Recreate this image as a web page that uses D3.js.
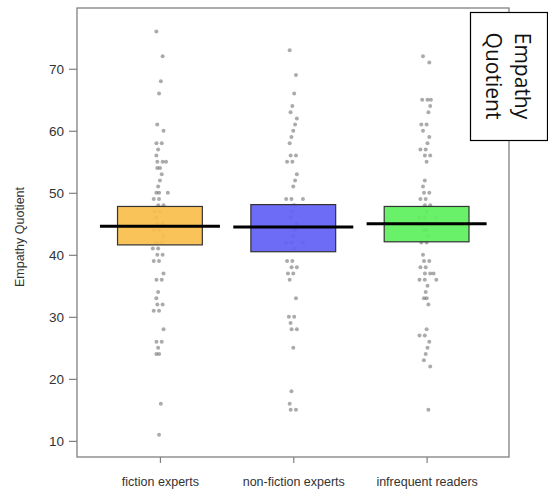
<!DOCTYPE html>
<html><head><meta charset="utf-8">
<script src="https://cdn.jsdelivr.net/npm/d3@7"></script>
<style>body{margin:0;background:#fff}svg{display:block}</style>
</head><body>
<svg id="c" width="548" height="494"></svg>
<script>
const categories = ["fiction experts", "non-fiction experts", "infrequent readers"];
const fictionEQ = [76,72,68,66,61,60,58,58,57,56,55,55,55,54,54,53,52,51,50,50,50,49,49,48,48,47,47,46,45,45,44,44,43,42,42,41,41,40,40,39,39,37,36,36,34,33,32,32,31,31,28,26,26,25,24,24,16,11];
const nonFictionEQ = [73,69,66,64,63,62,61,60,59,58,56,56,55,55,53,52,51,49,49,49,48,47,46,45,44,43,42,42,42,41,39,39,38,38,37,37,36,33,30,30,29,28,28,25,18,16,15,15];
const infrequentEQ = [72,71,65,65,65,64,63,61,61,60,59,58,57,57,56,56,55,52,51,50,50,49,49,48,48,47,46,46,46,45,45,44,44,43,42,42,40,39,39,38,38,37,37,37,36,36,36,35,34,33,33,32,28,27,27,26,25,24,23,22,15];
const means = [44.6, 44.5, 45.0];
const boxLow = [41.6, 40.5, 42.1];
const boxHigh = [47.8, 48.1, 47.8];
const boxColors = ["#F9BE4E", "#6161F5", "#5EF05E"];
const yTicks = [10,20,30,40,50,60,70];
const yTitle = "Empathy Quotient";
const legendLines = ["Empathy", "Quotient"];

const series = [fictionEQ, nonFictionEQ, infrequentEQ];
const svg = d3.select("#c");
const L = 77, R = 509, T = 8, B = 457;
const x = d3.scaleLinear().domain([0.378, 3.618]).range([L, R]);
const y = d3.scaleLinear().domain([7.4, 79.8]).range([B, T]);
const font = "'Liberation Sans', Arial, sans-serif";

// points
series.forEach((vals, ci) => {
  const seen = {};
  vals.forEach((v, i) => {
    const k = seen[v] = (seen[v] || 0) + 1;
    const off = ((i * 7) % 9 - 4) * 0.9 + (k - 1) * (k % 2 ? 3.5 : -3.5);
    svg.append("circle")
      .attr("cx", x(ci + 1) + off)
      .attr("cy", y(v))
      .attr("r", 2)
      .attr("fill", "#444")
      .attr("fill-opacity", 0.45);
  });
});

// boxes
svg.selectAll("rect.box").data(categories).join("rect")
  .attr("class", "box")
  .attr("x", (d, i) => x(i + 1 - 0.318))
  .attr("width", x(1.318) - x(0.682))
  .attr("y", (d, i) => y(boxHigh[i]))
  .attr("height", (d, i) => y(boxLow[i]) - y(boxHigh[i]))
  .attr("fill", (d, i) => boxColors[i])
  .attr("fill-opacity", 0.93)
  .attr("stroke", "#333")
  .attr("stroke-width", 1.2);

// mean lines
svg.selectAll("line.mean").data(means).join("line")
  .attr("class", "mean")
  .attr("x1", (d, i) => x(i + 1 - 0.45))
  .attr("x2", (d, i) => x(i + 1 + 0.45))
  .attr("y1", d => y(d)).attr("y2", d => y(d))
  .attr("stroke", "#000").attr("stroke-width", 3);

// frame
svg.append("rect").attr("x", L).attr("y", T).attr("width", R - L).attr("height", B - T)
  .attr("fill", "none").attr("stroke", "#808080").attr("stroke-width", 1.3);

// y axis
const ya = svg.append("g").attr("transform", `translate(${L},0)`)
  .call(d3.axisLeft(y).tickValues(yTicks).tickSize(8).tickPadding(5));
ya.select(".domain").remove();
ya.selectAll("line").attr("stroke", "#808080").attr("stroke-width", 1.2);
ya.selectAll("text").attr("font-family", font).attr("font-size", 13.5).attr("fill", "#333");

// x axis
const xa = svg.append("g").attr("transform", `translate(0,${B})`)
  .call(d3.axisBottom(x).tickValues([1,2,3]).tickFormat(d => categories[d - 1]).tickSize(6).tickPadding(14));
xa.select(".domain").remove();
xa.selectAll("line").attr("stroke", "#808080").attr("stroke-width", 1.2);
xa.selectAll("text").attr("font-family", font).attr("font-size", 12.5).attr("fill", "#333");

// y title
svg.append("text").attr("transform", "translate(24,237) rotate(-90)")
  .attr("text-anchor", "middle").attr("font-family", font).attr("font-size", 12.5)
  .attr("fill", "#333").text(yTitle);

// legend
svg.append("rect").attr("x", 470.5).attr("y", 12.5).attr("width", 77).attr("height", 128)
  .attr("fill", "#fff").attr("stroke", "#000").attr("stroke-width", 1.2);
legendLines.forEach((t, i) => {
  svg.append("text")
    .attr("transform", `translate(${523 - i * 29},76) rotate(90)`)
    .attr("text-anchor", "middle").attr("dominant-baseline", "central")
    .attr("font-family", "'Open Sans', sans-serif").attr("font-size", 21)
    .attr("fill", "#111").text(t);
});
</script>
</body></html>
